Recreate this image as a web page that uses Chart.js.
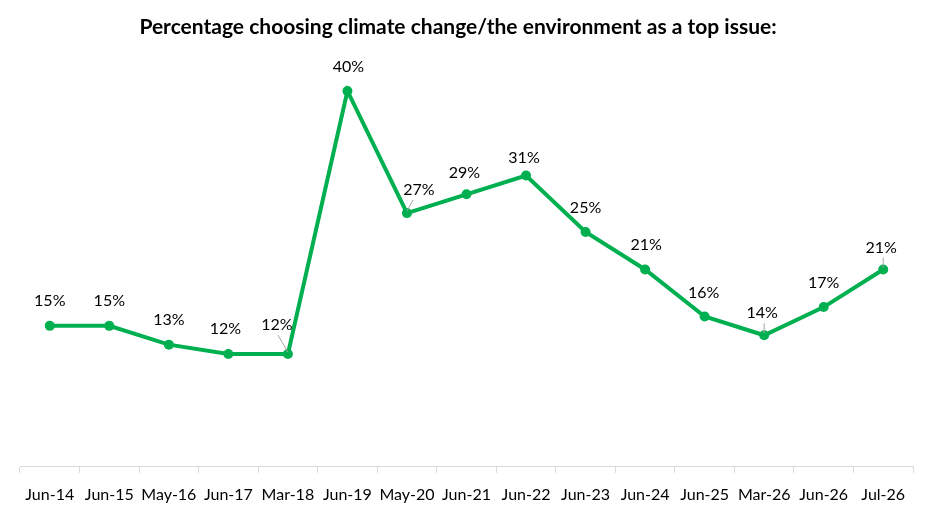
<!DOCTYPE html>
<html>
<head>
<meta charset="utf-8">
<script src="https://cdn.jsdelivr.net/npm/chart.js@4.4.0/dist/chart.umd.min.js"></script>
<style>
  html, body { margin: 0; padding: 0; background: #fff; }
  #wrap { width: 936px; height: 522px; }
</style>
</head>
<body>
<div id="wrap"><canvas id="climateChart"></canvas></div>
<script>
'use strict';

/* --- Data --- */
const categories = ['Jun-14', 'Jun-15', 'May-16', 'Jun-17', 'Mar-18', 'Jun-19', 'May-20', 'Jun-21',
  'Jun-22', 'Jun-23', 'Jun-24', 'Jun-25', 'Mar-26', 'Jun-26', 'Jul-26'];
const climateShare = [15, 15, 13, 12, 12, 40, 27, 29, 31, 25, 21, 16, 14, 17, 21];
const titleText = 'Percentage choosing climate change/the environment as a top issue:';

/* label nudges [dx, dy] relative to point, and which ones get a leader line */
const labelNudge = [[0, -25], [0, -25], [0, -25], [-3, -25], [-11, -29], [1, -24], [12, -23], [-2, -21],
  [-2, -18], [0, -24], [1, -25], [-1, -24], [-2, -22], [0, -24], [-2, -22]];
const hasLeader = [false, false, false, false, true, false, true, false,
  false, false, false, false, true, false, true];

/* --- Title, data labels + leader lines --- */
const pointLabels = {
  id: 'pointLabels',
  afterDatasetsDraw(chart) {
    const ctx = chart.ctx;
    const meta = chart.getDatasetMeta(0);
    ctx.save();
    ctx.textAlign = 'center';
    ctx.textBaseline = 'middle';

    // title, centred like the original (not over the plot area)
    ctx.fillStyle = '#000';
    ctx.font = 'bold 21px Lato, "Liberation Sans", sans-serif';
    ctx.fillText(titleText, 458, 27);

    ctx.font = '16px Lato, "Liberation Sans", sans-serif';
    meta.data.forEach((pt, i) => {
      const [dx, dy] = labelNudge[i];
      const lx = pt.x + dx, ly = pt.y + dy;
      if (hasLeader[i]) {
        ctx.strokeStyle = '#a6a6a6';
        ctx.lineWidth = 1;
        ctx.beginPath();
        const sy = ly + 10;
        if (Math.abs(dx) > 5) {
          ctx.moveTo(dx < 0 ? lx + 1 : lx - 6, sy);
        } else {
          ctx.moveTo(pt.x, sy);
        }
        ctx.lineTo(pt.x, pt.y - 2);
        ctx.stroke();
      }
      ctx.fillStyle = '#000';
      ctx.fillText(climateShare[i] + '%', lx, ly);
    });
    ctx.restore();
  }
};

new Chart(document.getElementById('climateChart'), {
  type: 'line',
  data: {
    labels: categories,
    datasets: [{
      data: climateShare,
      borderColor: '#00b050',
      backgroundColor: '#00b050',
      borderWidth: 4,
      tension: 0,
      pointRadius: 5,
      pointBackgroundColor: '#00b050',
      pointBorderWidth: 0
    }]
  },
  options: {
    responsive: true, maintainAspectRatio: false,
    animation: false,
    layout: { padding: { left: 20, right: 23, top: 44, bottom: 6 } },
    plugins: {
      legend: { display: false },
      tooltip: { enabled: false },
      title: { display: false }
    },
    scales: {
      x: {
        offset: true,
        grid: { offset: true, drawOnChartArea: false, drawTicks: true, tickLength: 6, color: '#d9d9d9' },
        border: { color: '#d9d9d9', width: 1 },
        ticks: { color: '#000', font: { family: 'Lato, "Liberation Sans", sans-serif', size: 16 }, padding: 12, maxRotation: 0, autoSkip: false }
      },
      y: { display: false, min: 0, max: 45 }
    }
  },
  plugins: [pointLabels]
});
</script>
</body>
</html>
